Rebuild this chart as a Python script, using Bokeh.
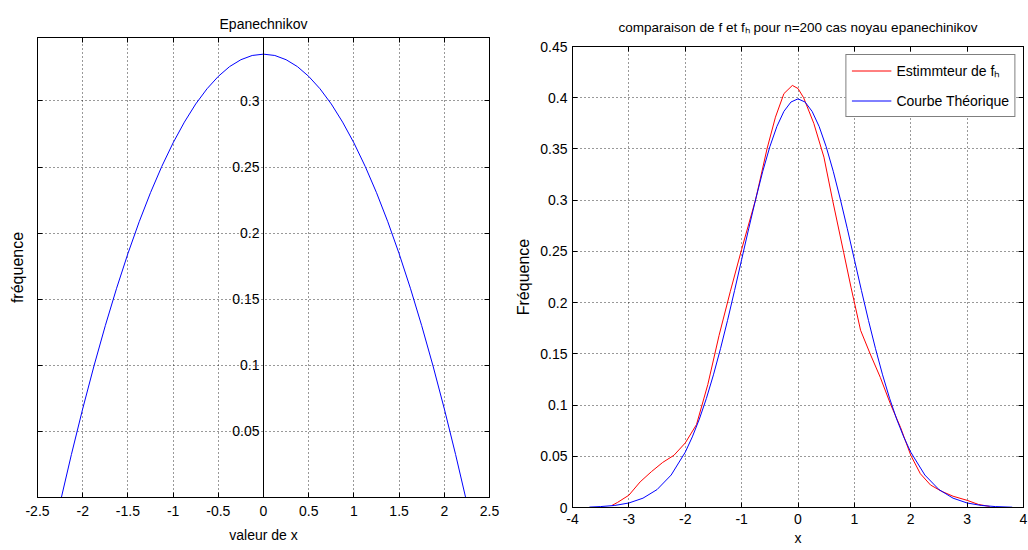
from bokeh.plotting import figure
from bokeh.models import (LinearAxis, FixedTicker, CustomJSTickFormatter, Span,
                          ColumnDataSource, Range1d)
from bokeh.layouts import row, column
from bokeh.embed import file_html
from bokeh.resources import INLINE
from bokeh.core.properties import value

FONT = "Liberation Sans"

# ---------------- data: left panel (Epanechnikov kernel) ----------------
epa_x = [-2.236, -2.125, -2.0, -1.875, -1.75, -1.625, -1.5, -1.375, -1.25, -1.125, -1.0,
         -0.875, -0.75, -0.625, -0.5, -0.375, -0.25, -0.125, 0.0, 0.125, 0.25, 0.375, 0.5,
         0.625, 0.75, 0.875, 1.0, 1.125, 1.25, 1.375, 1.5, 1.625, 1.75, 1.875, 2.0, 2.125, 2.236]
epa_y = [0.0, 0.0325, 0.0671, 0.0996, 0.1300, 0.1583, 0.1845, 0.2086, 0.2306, 0.2505, 0.2683,
         0.2840, 0.2977, 0.3092, 0.3186, 0.3260, 0.3312, 0.3344, 0.3354, 0.3344, 0.3312, 0.3260,
         0.3186, 0.3092, 0.2977, 0.2840, 0.2683, 0.2505, 0.2306, 0.2086, 0.1845, 0.1583, 0.1300,
         0.0996, 0.0671, 0.0325, 0.0]
left_xticks = [-2.5, -2.0, -1.5, -1.0, -0.5, 0.0, 0.5, 1.0, 1.5, 2.0, 2.5]
left_yticks = [0.05, 0.1, 0.15, 0.2, 0.25, 0.3]
left_ylabels = ["0.05", "0.1", "0.15", "0.2", "0.25", "0.3"]

# ---------------- data: right panel (estimator vs theoretical) ----------------
est_x = [-3.3, -3.2, -3.0, -2.8, -2.6, -2.4, -2.2, -2.0, -1.8, -1.6, -1.4, -1.2, -1.0, -0.75,
         -0.55, -0.4, -0.25, -0.1, 0.0, 0.1, 0.28, 0.46, 0.61, 0.81, 0.94, 1.11, 1.28, 1.46,
         1.64, 1.82, 2.0, 2.17, 2.35, 2.54, 2.75, 3.0, 3.2, 3.4]
est_y = [0.002, 0.005, 0.012, 0.025, 0.035, 0.044, 0.051, 0.063, 0.081, 0.120, 0.168, 0.211,
         0.252, 0.301, 0.350, 0.381, 0.404, 0.412, 0.409, 0.400, 0.375, 0.342, 0.301, 0.249,
         0.215, 0.173, 0.150, 0.127, 0.101, 0.078, 0.051, 0.033, 0.022, 0.016, 0.011, 0.007,
         0.003, 0.001]
theo_x = [-3.7, -3.5, -3.25, -3.0, -2.75, -2.5, -2.25, -2.0, -1.875, -1.75, -1.625, -1.5,
          -1.375, -1.25, -1.125, -1.0, -0.875, -0.75, -0.625, -0.5, -0.375, -0.25, -0.125, 0.0,
          0.125, 0.25, 0.375, 0.5, 0.625, 0.75, 0.875, 1.0, 1.125, 1.25, 1.375, 1.5, 1.625,
          1.75, 1.875, 2.0, 2.25, 2.5, 2.75, 3.0, 3.25, 3.5, 3.8]
theo_y = [0.0004, 0.0009, 0.0020, 0.0044, 0.0091, 0.0175, 0.0317, 0.0540, 0.0689, 0.0863,
          0.1065, 0.1295, 0.1550, 0.1826, 0.2119, 0.2420, 0.2721, 0.3011, 0.3282, 0.3521,
          0.3719, 0.3867, 0.3958, 0.3989, 0.3958, 0.3867, 0.3719, 0.3521, 0.3282, 0.3011,
          0.2721, 0.2420, 0.2119, 0.1826, 0.1550, 0.1295, 0.1065, 0.0863, 0.0689, 0.0540,
          0.0317, 0.0175, 0.0091, 0.0044, 0.0020, 0.0009, 0.0003]
right_xticks = [-4, -3, -2, -1, 0, 1, 2, 3, 4]
right_yticks = [0.0, 0.05, 0.1, 0.15, 0.2, 0.25, 0.3, 0.35, 0.4, 0.45]

fmt_code = "return String(Number(tick.toFixed(2)));"
blank_code = "return '';"


def tick_axis(ax, ticks):
    ax.ticker = FixedTicker(ticks=ticks)
    ax.major_tick_in = 5
    ax.major_tick_out = 0
    ax.minor_tick_line_color = None
    ax.axis_line_color = "black"
    ax.major_tick_line_color = "black"
    ax.major_label_text_font = FONT
    ax.major_label_text_font_size = "14px"
    ax.major_label_text_color = "black"
    ax.axis_label_text_font = FONT
    ax.axis_label_text_font_style = "normal"
    ax.axis_label_text_color = "black"


def style(p, xt, yt, title, title_standoff, title_size):
    p.outline_line_color = "black"
    p.outline_line_alpha = 1.0
    p.background_fill_color = "white"
    p.border_fill_color = "white"
    p.title.text = title
    p.title.align = "center"
    p.title.text_font = FONT
    p.title.text_font_size = title_size
    p.title.text_font_style = "normal"
    p.title.text_color = "black"
    p.title.standoff = title_standoff
    tick_axis(p.below[0], xt)
    tick_axis(p.left[0], yt)
    p.below[0].formatter = CustomJSTickFormatter(code=fmt_code)
    p.xgrid.ticker = FixedTicker(ticks=xt)
    p.ygrid.ticker = FixedTicker(ticks=yt)
    for g in (p.xgrid, p.ygrid):
        g.grid_line_color = "black"
        g.grid_line_dash = "1 3"
        g.grid_line_alpha = 0.8
        g.grid_line_width = 1
    # box ticks on top and right (no labels)
    top = LinearAxis(formatter=CustomJSTickFormatter(code=blank_code), major_label_standoff=0)
    right = LinearAxis(formatter=CustomJSTickFormatter(code=blank_code), major_label_standoff=0)
    tick_axis(top, xt)
    tick_axis(right, yt)
    p.add_layout(top, "above")
    p.add_layout(right, "right")


# ---------------- left figure ----------------
p1 = figure(frame_width=452, frame_height=460, min_border_left=37, min_border_right=19,
            min_border_top=37, min_border_bottom=53,
            x_range=Range1d(-2.5, 2.5), y_range=Range1d(0, 0.348),
            output_backend="svg", toolbar_location=None)
style(p1, left_xticks, left_yticks, "Epanechnikov", 12, "14px")
xa1, ya1 = p1.below[0], p1.left[0]
xa1.major_label_standoff = 8
xa1.axis_label = "valeur de x"
xa1.axis_label_text_font_size = "14px"
xa1.axis_label_standoff = 8
ya1.formatter = CustomJSTickFormatter(code=blank_code)
ya1.major_label_standoff = 0
ya1.axis_label = "fréquence"
ya1.axis_label_text_font_size = "16px"
ya1.axis_label_standoff = 12

p1.add_layout(Span(location=0, dimension="height", line_color="black", line_width=1))
p1.line(epa_x, epa_y, line_color="#0000ff", line_width=1)
lab_src = ColumnDataSource(dict(x=[0.0] * len(left_yticks), y=left_yticks, t=left_ylabels))
p1.text(x="x", y="y", text="t", source=lab_src, x_offset=-4, text_align="right",
        text_baseline="middle", text_font=value(FONT), text_font_size="14px", text_color="black")

# ---------------- right figure ----------------
p2 = figure(frame_width=451, frame_height=461, min_border_left=64, min_border_right=5,
            min_border_top=46, min_border_bottom=43,
            x_range=Range1d(-4, 4), y_range=Range1d(0, 0.45),
            output_backend="svg", toolbar_location=None)
style(p2, right_xticks, right_yticks,
      "comparaison de f et f\u2095 pour n=200 cas noyau epanechinikov", 23, "13.5px")
xa2, ya2 = p2.below[0], p2.left[0]
ya2.formatter = CustomJSTickFormatter(code=fmt_code)
xa2.major_label_standoff = 6
xa2.axis_label = "x"
xa2.axis_label_text_font_size = "14px"
xa2.axis_label_standoff = 3
ya2.major_label_standoff = 5
ya2.axis_label = "Fréquence"
ya2.axis_label_text_font_size = "16px"
ya2.axis_label_standoff = 5

p2.line(est_x, est_y, line_color="#ff0000", line_width=1, legend_label="Estimmteur de f\u2095")
p2.line(theo_x, theo_y, line_color="#0000ff", line_width=1, legend_label="Courbe Théorique")
lg = p2.legend[0]
lg.location = "top_right"
lg.margin = 8
lg.padding = 5
lg.spacing = 9
lg.glyph_width = 40
lg.glyph_height = 21
lg.label_height = 21
lg.label_standoff = 5
lg.label_text_font = FONT
lg.label_text_font_size = "14px"
lg.label_text_color = "black"
lg.border_line_color = "black"
lg.border_line_width = 1
lg.background_fill_color = "white"
lg.background_fill_alpha = 1.0

layout = row(column(p1), column(p2))
open("out.html", "w").write(file_html(layout, INLINE))
